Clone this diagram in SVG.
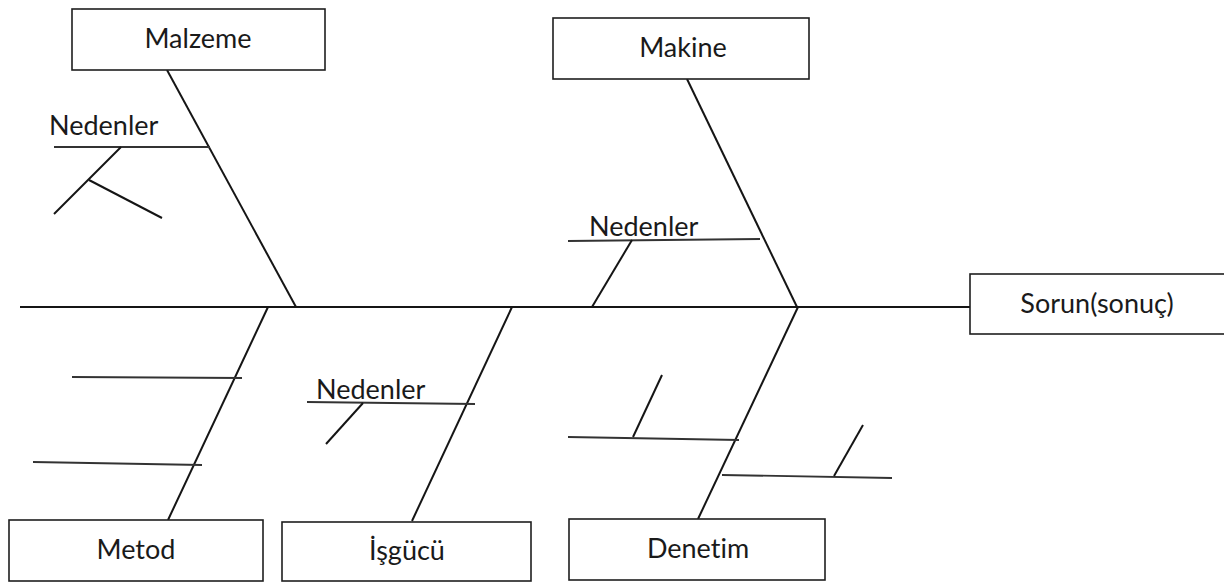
<svg xmlns="http://www.w3.org/2000/svg" width="1224" height="582" viewBox="0 0 1224 582">
  <style>
    .box { fill: #ffffff; stroke: #1e1e1e; stroke-width: 1.6; }
    .lbl, .cause { font-family: Lato, "Open Sans", "Liberation Sans", sans-serif; font-size: 27px; fill: #1a1a1a; font-variant-ligatures: none; }
    .lbl { text-anchor: middle; }
    .bone { stroke: #151515; stroke-width: 2; fill: none; stroke-linecap: butt; }
    .rib { stroke: #333333; stroke-width: 1.8; fill: none; }
  </style>
  <rect width="1224" height="582" fill="#ffffff"/>

  <!-- connectors: spine, main bones, cause ribs -->
  <g id="connectors">
    <line class="bone" x1="20" y1="307" x2="970" y2="307"/>
    <!-- Malzeme -->
    <line class="bone" x1="167" y1="70" x2="296" y2="307"/>
    <line class="rib" x1="54" y1="147" x2="210" y2="147"/>
    <line class="bone" x1="121" y1="147" x2="54" y2="214"/>
    <line class="bone" x1="89" y1="180" x2="162" y2="218"/>
    <!-- Makine -->
    <line class="bone" x1="687" y1="79" x2="797" y2="307"/>
    <line class="rib" x1="568" y1="241" x2="760" y2="239"/>
    <line class="bone" x1="632" y1="240" x2="592" y2="307"/>
    <!-- Metod -->
    <line class="bone" x1="268" y1="307" x2="168" y2="520"/>
    <line class="rib" x1="72" y1="377" x2="242" y2="378"/>
    <line class="rib" x1="33" y1="462" x2="202" y2="465"/>
    <!-- İşgücü -->
    <line class="bone" x1="512" y1="307" x2="412" y2="521"/>
    <line class="rib" x1="307" y1="402" x2="475" y2="404"/>
    <line class="bone" x1="363" y1="403" x2="326" y2="444"/>
    <!-- Denetim -->
    <line class="bone" x1="798" y1="307" x2="698" y2="519"/>
    <line class="rib" x1="568" y1="437" x2="739" y2="440"/>
    <line class="bone" x1="633" y1="437" x2="662" y2="375"/>
    <line class="rib" x1="722" y1="475" x2="892" y2="478"/>
    <line class="bone" x1="834" y1="476" x2="863" y2="425"/>
  </g>

  <g id="cause-labels">
    <text class="cause" x="49" y="135">Nedenler</text>
    <text class="cause" x="589" y="236">Nedenler</text>
    <text class="cause" x="316" y="399">Nedenler</text>
  </g>

  <g id="malzeme">
    <rect class="box" x="72" y="9" width="253" height="61"/>
    <text class="lbl" x="198" y="48">Malzeme</text>
  </g>
  <g id="makine">
    <rect class="box" x="553" y="18" width="256" height="61"/>
    <text class="lbl" x="683" y="57">Makine</text>
  </g>
  <g id="sorun">
    <rect class="box" x="970" y="274" width="260" height="60"/>
    <text class="lbl" x="1097" y="313">Sorun(sonuç)</text>
  </g>
  <g id="metod">
    <rect class="box" x="9" y="520" width="254" height="61"/>
    <text class="lbl" x="136" y="559">Metod</text>
  </g>
  <g id="isgucu">
    <rect class="box" x="282" y="522" width="249" height="59"/>
    <text class="lbl" x="407" y="560">İşgücü</text>
  </g>
  <g id="denetim">
    <rect class="box" x="569" y="519" width="256" height="61"/>
    <text class="lbl" x="698" y="558">Denetim</text>
  </g>
</svg>
